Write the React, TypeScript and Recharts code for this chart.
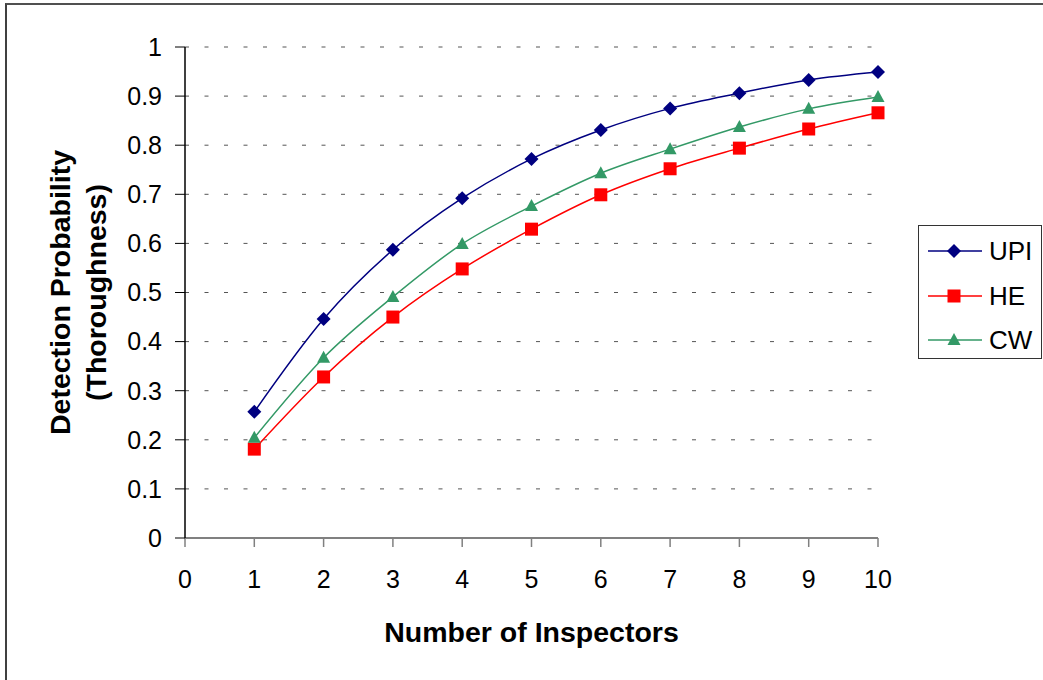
import React from 'react';
import { LineChart, Line, XAxis, YAxis, CartesianGrid, Legend } from 'recharts';

const inspectors = [1, 2, 3, 4, 5, 6, 7, 8, 9, 10];
const upi = [0.257, 0.446, 0.587, 0.692, 0.772, 0.831, 0.875, 0.906, 0.933, 0.949];
const he = [0.181, 0.328, 0.45, 0.548, 0.629, 0.699, 0.752, 0.794, 0.833, 0.866];
const cw = [0.204, 0.367, 0.491, 0.599, 0.676, 0.743, 0.792, 0.837, 0.874, 0.898];
const xTicks = [0, 1, 2, 3, 4, 5, 6, 7, 8, 9, 10];
const yTicks = [0, 0.1, 0.2, 0.3, 0.4, 0.5, 0.6, 0.7, 0.8, 0.9, 1];

const data = inspectors.map((x, i) => ({ x, upi: upi[i], he: he[i], cw: cw[i] }));

const FONT = 'Liberation Sans, Arial, sans-serif';
const C_UPI = '#000080';
const C_HE = '#FF0000';
const C_CW = '#339966';

const Diamond = (p: any) => {
  const { cx, cy, index } = p;
  if (cx == null || cy == null) return <g key={`d${index}`} />;
  const r = 7;
  return <polygon key={`d${index}`} points={`${cx},${cy - r} ${cx + r},${cy} ${cx},${cy + r} ${cx - r},${cy}`} fill={C_UPI} />;
};
const Square = (p: any) => {
  const { cx, cy, index } = p;
  if (cx == null || cy == null) return <g key={`s${index}`} />;
  const s = 13;
  return <rect key={`s${index}`} x={cx - s / 2} y={cy - s / 2} width={s} height={s} fill={C_HE} />;
};
const Triangle = (p: any) => {
  const { cx, cy, index } = p;
  if (cx == null || cy == null) return <g key={`t${index}`} />;
  const w = 13, h = 12;
  return <polygon key={`t${index}`} points={`${cx},${cy - h / 2 - 1} ${cx + w / 2},${cy + h / 2 - 1} ${cx - w / 2},${cy + h / 2 - 1}`} fill={C_CW} />;
};

const legendItems = [
  { name: 'UPI', color: C_UPI, shape: 'diamond' },
  { name: 'HE', color: C_HE, shape: 'square' },
  { name: 'CW', color: C_CW, shape: 'triangle' },
];

const LegendContent = () => (
  <div style={{ width: 124, height: 134, border: '1.5px solid #333', boxSizing: 'border-box', background: '#fff', position: 'relative' }}>
    {legendItems.map((it, i) => {
      const cy = 25 + i * 44.5;
      return (
        <div key={it.name} style={{ position: 'absolute', left: 0, top: cy - 20, height: 40, width: 124 }}>
          <svg width={66} height={40} style={{ position: 'absolute', left: 0, top: 0 }}>
            <line x1={9} x2={63} y1={20} y2={20} stroke={it.color} strokeWidth={1.5} />
            {it.shape === 'diamond' && <polygon points="35,13 42,20 35,27 28,20" fill={it.color} />}
            {it.shape === 'square' && <rect x={28.5} y={13.5} width={13} height={13} fill={it.color} />}
            {it.shape === 'triangle' && <polygon points="35,13 41.5,25 28.5,25" fill={it.color} />}
          </svg>
          <span style={{ position: 'absolute', left: 70, top: 0, lineHeight: '40px', fontFamily: FONT, fontSize: 26, color: '#000' }}>{it.name}</span>
        </div>
      );
    })}
  </div>
);

const YLabel = (props: any) => {
  const vb = props.viewBox || {};
  const cy = (vb.y ?? 47) + (vb.height ?? 491) / 2;
  return (
    <g>
      <text x={60} y={cy} transform={`rotate(-90 60 ${cy})`} textAnchor="middle" dominantBaseline="central" fontFamily={FONT} fontWeight="bold" fontSize={28.5} fill="#000">
        Detection Probability
      </text>
      <text x={96} y={cy} transform={`rotate(-90 96 ${cy})`} textAnchor="middle" dominantBaseline="central" fontFamily={FONT} fontWeight="bold" fontSize={28.5} fill="#000">
        (Thoroughness)
      </text>
    </g>
  );
};

const XLabel = (props: any) => {
  const vb = props.viewBox || {};
  const cx = (vb.x ?? 185) + (vb.width ?? 693) / 2;
  return (
    <text x={cx} y={(vb.y ?? 538) + 94} textAnchor="middle" dominantBaseline="central" fontFamily={FONT} fontWeight="bold" fontSize={28.5} fill="#000">
      Number of Inspectors
    </text>
  );
};

export default function App() {
  return (
    <div style={{ position: 'absolute', left: 0, top: 0, width: 1043, height: 680, overflow: 'hidden', background: '#fff' }}>
      <div style={{ position: 'absolute', left: 5, top: 3, width: 1100, height: 700, borderLeft: '2px solid #404040', borderTop: '2px solid #505050' }} />
      <div style={{ position: 'absolute', left: 0, top: 0 }}>
        <LineChart width={1043} height={680} data={data} margin={{ top: 47, right: 165, bottom: 82, left: 0 }}>
          <CartesianGrid horizontal vertical={false} stroke="#555" strokeDasharray="4 15.5" />
          <XAxis
            dataKey="x"
            type="number"
            domain={[0, 10]}
            ticks={xTicks}
            interval={0}
            height={60}
            tickSize={9}
            tickMargin={23}
            axisLine={{ stroke: '#808080', strokeWidth: 2 }}
            tickLine={{ stroke: '#808080', strokeWidth: 1.5 }}
            tick={{ fontFamily: FONT, fontSize: 25, fill: '#000' }}
            label={<XLabel />}
          />
          <YAxis
            type="number"
            domain={[0, 1]}
            ticks={yTicks}
            interval={0}
            width={185}
            tickSize={10}
            tickMargin={13}
            axisLine={{ stroke: '#000', strokeWidth: 1.5 }}
            tickLine={{ stroke: '#000', strokeWidth: 1 }}
            tick={{ fontFamily: FONT, fontSize: 25, fill: '#000' }}
            label={<YLabel />}
          />
          <Legend
            layout="vertical"
            align="center"
            verticalAlign="middle"
            content={<LegendContent />}
            wrapperStyle={{ left: 918, top: 225, width: 124, height: 134, right: 'auto', bottom: 'auto' }}
          />
          <Line type="monotone" dataKey="upi" name="UPI" stroke={C_UPI} strokeWidth={1.5} dot={Diamond} activeDot={false} isAnimationActive={false} />
          <Line type="monotone" dataKey="he" name="HE" stroke={C_HE} strokeWidth={1.5} dot={Square} activeDot={false} isAnimationActive={false} />
          <Line type="monotone" dataKey="cw" name="CW" stroke={C_CW} strokeWidth={1.5} dot={Triangle} activeDot={false} isAnimationActive={false} />
        </LineChart>
      </div>
    </div>
  );
}
